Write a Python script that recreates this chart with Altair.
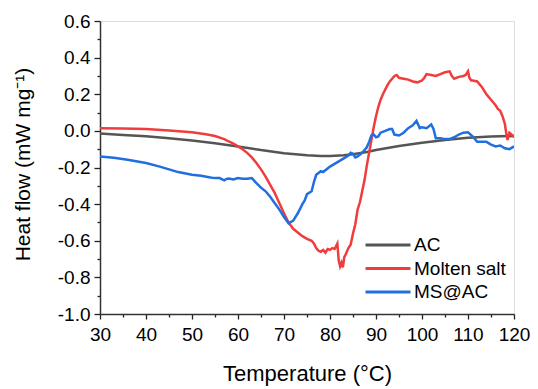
import altair as alt
import pandas as pd

series_names = ["AC", "Molten salt", "MS@AC"]
series_colors = ["#555555", "#f03c3c", "#1f6fe0"]

ac_t = [30, 35, 40, 45, 50, 55, 60, 65, 70, 75, 78, 80, 83, 85, 88, 90, 95, 100, 105, 110, 115, 120]
ac_v = [-0.015, -0.022, -0.03, -0.04, -0.052, -0.067, -0.085, -0.105, -0.122, -0.133, -0.137, -0.137,
        -0.133, -0.128, -0.115, -0.104, -0.083, -0.065, -0.05, -0.038, -0.031, -0.028]

ms_t = [30, 35, 40, 45, 50, 53, 55, 57, 58, 59, 60, 61, 62, 63, 64, 65, 66, 67, 68, 69, 70, 71, 72, 73,
        74, 75, 76, 76.5, 77, 77.5, 78, 78.5, 79, 79.5, 80, 80.5, 81, 81.3, 81.6, 81.9, 82.2, 82.5, 82.8,
        83.1, 83.5, 84, 84.5, 85, 85.5, 86, 86.5, 87, 87.5, 88, 88.5, 89, 89.5, 90, 90.5, 91, 91.5, 92,
        92.5, 93, 93.5, 94, 94.5, 95, 96, 97, 98, 99, 100, 100.5, 101, 102, 103, 104, 105, 106, 106.5,
        107, 108, 109, 109.5, 110, 110.3, 110.7, 111, 112, 113, 114, 115, 116, 116.5, 117, 117.5, 118,
        118.3, 118.6, 119, 119.5, 120]
ms_v = [0.014, 0.013, 0.010, 0.002, -0.008, -0.018, -0.028, -0.045, -0.058, -0.07, -0.085, -0.10,
        -0.12, -0.145, -0.175, -0.21, -0.25, -0.295, -0.34, -0.395, -0.45, -0.50, -0.535, -0.555,
        -0.575, -0.59, -0.60, -0.615, -0.64, -0.655, -0.66, -0.65, -0.665, -0.645, -0.65, -0.64,
        -0.645, -0.63, -0.615, -0.71, -0.74, -0.72, -0.745, -0.69, -0.67, -0.64, -0.62, -0.56, -0.51,
        -0.43, -0.39, -0.33, -0.27, -0.19, -0.12, -0.05, 0.02, 0.08, 0.13, 0.17, 0.20, 0.225, 0.25,
        0.27, 0.285, 0.30, 0.305, 0.29, 0.285, 0.28, 0.27, 0.265, 0.275, 0.29, 0.31, 0.305, 0.30,
        0.31, 0.32, 0.325, 0.30, 0.285, 0.295, 0.30, 0.305, 0.325, 0.29, 0.275, 0.275, 0.27, 0.24,
        0.20, 0.17, 0.14, 0.12, 0.11, 0.08, 0.04, -0.01, -0.05, -0.01, -0.02, -0.035]

msac_t = [30, 33, 36, 40, 43, 45, 47, 50, 52, 54, 55, 56, 57, 57.5, 58, 59, 60, 61, 62, 63, 64, 65,
          66, 67, 68, 69, 70, 71, 72, 73, 74, 74.5, 75, 76, 76.5, 77, 78, 78.5, 79, 80, 81, 82, 83,
          84, 84.5, 85, 85.5, 86, 87, 88, 88.5, 89, 89.5, 90, 90.5, 91, 92, 93, 93.5, 94, 95, 96, 97,
          98, 98.8, 99.5, 100, 101, 102, 102.5, 103, 104, 105, 106, 107, 108, 109, 110, 111, 112,
          113, 114, 115, 116, 117, 118, 119, 120]
msac_v = [-0.14, -0.147, -0.158, -0.175, -0.195, -0.21, -0.225, -0.24, -0.245, -0.255, -0.258,
          -0.258, -0.27, -0.262, -0.26, -0.265, -0.258, -0.262, -0.262, -0.258, -0.285, -0.31,
          -0.33, -0.36, -0.395, -0.43, -0.47, -0.505, -0.49, -0.45, -0.40, -0.38, -0.345, -0.33,
          -0.28, -0.24, -0.22, -0.225, -0.215, -0.195, -0.18, -0.165, -0.15, -0.135, -0.12, -0.125,
          -0.145, -0.14, -0.12, -0.09, -0.06, -0.025, -0.02, -0.035, -0.03, -0.01, 0.0, 0.01, 0.01,
          -0.02, -0.025, -0.01, 0.015, 0.03, 0.055, 0.015, 0.02, 0.015, 0.035, 0.01, -0.04, -0.04,
          -0.045, -0.045, -0.035, -0.02, -0.01, -0.008, -0.03, -0.06, -0.06, -0.06, -0.075, -0.085,
          -0.08, -0.095, -0.10, -0.085]

x_ticks = [30, 35, 40, 45, 50, 55, 60, 65, 70, 75, 80, 85, 90, 95, 100, 105, 110, 115, 120]
y_ticks = [-1.0, -0.9, -0.8, -0.7, -0.6, -0.5, -0.4, -0.3, -0.2, -0.1, 0.0, 0.1, 0.2, 0.3, 0.4, 0.5, 0.6]

frames = []
for name, ts, vs in [("AC", ac_t, ac_v), ("Molten salt", ms_t, ms_v), ("MS@AC", msac_t, msac_v)]:
    frames.append(pd.DataFrame({"T": ts, "v": vs, "series": name,
                                "order": series_names.index(name)}))
df = pd.concat(frames, ignore_index=True)

FONT = "Liberation Sans"

x_axis = alt.Axis(
    values=x_ticks,
    labelExpr="datum.value % 10 == 0 ? format(datum.value, 'd') : ''",
    tickSize={"condition": {"test": "datum.value % 10 == 0", "value": 5}, "value": 3},
    labelPadding=6,
    labelFontSize=19,
    labelFont=FONT,
    labelColor="black",
    tickColor="#222",
    tickWidth=1.3,
    domainColor="#333",
    domainWidth=1.5,
    grid=False,
    title="Temperature (°C)",
    titleFont=FONT,
    titleFontSize=22,
    titleFontWeight="normal",
    titleColor="black",
    titleBaseline="alphabetic",
    titleY=66,
    labelFlush=False,
    labelOverlap=False,
)

y_axis = alt.Axis(
    values=y_ticks,
    labelExpr="abs(round(datum.value*10)) % 2 == 0 ? ((datum.value < -0.001 ? '-' : '') + format(abs(datum.value), '.1f')) : ''",
    tickSize={"condition": {"test": "abs(round(datum.value*10)) % 2 == 0", "value": 6}, "value": 3},
    labelPadding=4,
    labelFontSize=19,
    labelFont=FONT,
    labelColor="black",
    tickColor="#222",
    tickWidth=1.3,
    domainColor="#333",
    domainWidth=1.5,
    grid=False,
    title="Heat flow (mW mg⁻¹)",
    titleFont=FONT,
    titleFontSize=21,
    titleFontWeight="normal",
    titleColor="black",
    titleAngle=-90,
    titleBaseline="middle",
    titleAlign="center",
    titleX=-77,
    titleY=143,
    labelFlush=False,
    labelOverlap=False,
)

chart = alt.Chart(df).mark_line(strokeWidth=2.5, clip=True).encode(
    x=alt.X("T:Q", scale=alt.Scale(domain=[30, 120], nice=False, zero=False), axis=x_axis),
    y=alt.Y("v:Q", scale=alt.Scale(domain=[-1.0, 0.6], nice=False, zero=False), axis=y_axis),
    color=alt.Color(
        "series:N",
        scale=alt.Scale(domain=series_names, range=series_colors),
        legend=alt.Legend(
            orient="none",
            legendX=275,
            legendY=211,
            title=None,
            symbolType="M-2,0H2",
            symbolSize=506,
            symbolStrokeWidth=3,
            labelFont=FONT,
            labelFontSize=19,
            labelColor="black",
            labelOffset=13,
            rowPadding=0.5,
            padding=0,
        ),
    ),
    order=alt.Order("order:Q"),
).properties(
    width=414,
    height=293,
    autosize=alt.AutoSizeParams(type="none"),
    padding={"left": 100, "top": 21, "right": 24, "bottom": 75},
).configure_view(
    stroke="#444", strokeWidth=1.5
).configure(background="white")

chart.save("out.html", embed_options={"renderer": "svg", "actions": False})
